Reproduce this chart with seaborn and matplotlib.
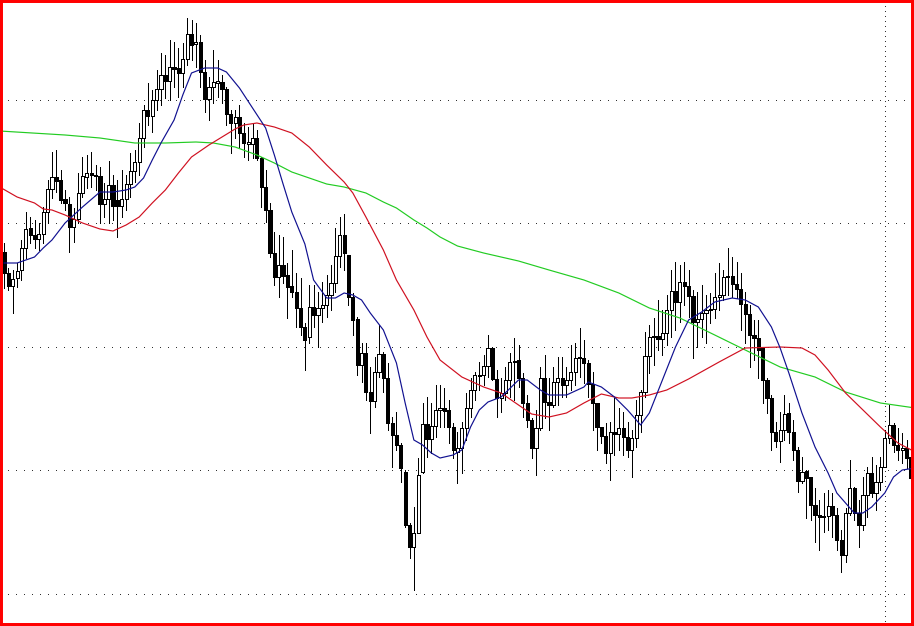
import numpy as np
import pandas as pd
import matplotlib
matplotlib.use("Agg")
import matplotlib.pyplot as plt
from matplotlib.patches import Rectangle
import seaborn as sns

# ---------------- data (price units, one value per bar) ----------------
opens = [748, 727, 714, 722, 730, 752, 772, 765, 761, 766,
         788, 811, 823, 820, 801, 796, 773, 781, 807, 823,
         827, 825, 824, 796, 801, 815, 800, 794, 801, 816,
         829, 838, 862, 890, 884, 900, 911, 925, 919, 933,
         932, 927, 941, 966, 956, 958, 928, 901, 913, 917,
         918, 911, 886, 877, 883, 867, 856, 856, 862, 842,
         813, 790, 747, 723, 735, 725, 714, 708, 692, 673,
         663, 693, 685, 692, 695, 705, 717, 744, 765, 745,
         703, 681, 635, 647, 608, 599, 628, 646, 622, 577,
         565, 555, 528, 475, 453, 467, 528, 576, 561, 574,
         590, 592, 590, 573, 548, 552, 572, 592, 610, 624,
         625, 634, 652, 621, 602, 607, 620, 638, 640, 622,
         597, 580, 552, 572, 622, 598, 595, 618, 622, 615,
         620, 628, 642, 642, 637, 616, 597, 573, 564, 547,
         568, 566, 572, 563, 550, 562, 585, 608, 644, 663,
         664, 661, 667, 690, 709, 698, 718, 714, 704, 678,
         681, 687, 690, 691, 703, 705, 723, 724, 716, 711,
         696, 686, 665, 662, 652, 620, 602, 568, 559, 570,
         587, 568, 550, 519, 529, 523, 495, 485, 484, 484,
         494, 485, 460, 445, 487, 512, 487, 475, 505, 527,
         507, 518, 533, 562, 575, 555, 550, 552, 543]

highs = [757, 732, 730, 737, 760, 788, 783, 780, 777, 793,
         820, 848, 850, 830, 810, 803, 792, 827, 843, 845,
         848, 835, 833, 817, 839, 825, 820, 830, 825, 847,
         850, 877, 895, 917, 910, 930, 947, 945, 960, 958,
         952, 957, 982, 980, 977, 965, 940, 923, 950, 940,
         925, 913, 890, 890, 895, 877, 873, 877, 870, 843,
         830, 797, 768, 765, 763, 737, 750, 727, 722, 677,
         715, 715, 708, 718, 725, 735, 772, 783, 786, 745,
         707, 683, 657, 657, 633, 643, 675, 648, 637, 583,
         588, 557, 530, 477, 493, 542, 597, 603, 597, 615,
         615, 612, 600, 577, 568, 578, 607, 622, 628, 638,
         645, 665, 653, 630, 622, 633, 647, 662, 655, 627,
         605, 582, 590, 633, 645, 622, 633, 643, 643, 633,
         655, 657, 672, 660, 640, 628, 597, 573, 577, 578,
         602, 592, 588, 578, 570, 600, 610, 668, 675, 682,
         700, 690, 705, 730, 738, 735, 738, 730, 710, 708,
         715, 705, 707, 727, 737, 730, 752, 743, 738, 727,
         708, 695, 680, 680, 652, 622, 605, 578, 588, 605,
         597, 580, 553, 543, 530, 523, 512, 500, 507, 510,
         507, 492, 470, 492, 540, 513, 500, 523, 533, 543,
         535, 543, 570, 595, 577, 572, 567, 560, 543]

lows = [712, 710, 687, 713, 720, 742, 757, 752, 750, 757,
        777, 802, 808, 797, 790, 748, 758, 777, 803, 812,
        813, 810, 777, 783, 777, 780, 763, 783, 790, 803,
        818, 825, 853, 875, 868, 890, 895, 902, 900, 913,
        903, 913, 935, 940, 933, 913, 888, 880, 897, 903,
        897, 875, 847, 862, 853, 843, 840, 842, 840, 793,
        778, 743, 715, 703, 717, 682, 703, 673, 665, 630,
        657, 673, 653, 678, 683, 690, 708, 733, 730, 695,
        665, 625, 618, 600, 567, 593, 623, 608, 570, 533,
        550, 518, 473, 442, 410, 467, 527, 543, 547, 563,
        573, 573, 557, 542, 517, 527, 560, 583, 600, 610,
        615, 623, 620, 583, 588, 600, 603, 600, 613, 583,
        573, 542, 525, 570, 582, 570, 593, 595, 603, 603,
        610, 615, 623, 617, 603, 570, 550, 557, 537, 520,
        545, 550, 545, 543, 523, 553, 568, 603, 627, 635,
        650, 645, 655, 663, 670, 678, 695, 683, 642, 653,
        663, 657, 677, 682, 690, 700, 705, 703, 702, 670,
        657, 633, 640, 622, 597, 587, 550, 553, 538, 560,
        557, 540, 508, 517, 482, 480, 458, 450, 468, 470,
        463, 450, 428, 438, 485, 480, 453, 470, 483, 503,
        490, 510, 533, 557, 548, 540, 537, 532, 507]

closes = [727, 714, 721, 729, 752, 771, 765, 761, 766, 788,
          811, 823, 819, 800, 797, 773, 781, 807, 824, 827,
          825, 824, 796, 801, 815, 794, 794, 801, 816, 829,
          838, 862, 890, 884, 900, 911, 925, 919, 933, 931,
          927, 941, 966, 955, 958, 928, 901, 913, 918, 919,
          911, 886, 877, 883, 867, 857, 858, 862, 842, 813,
          790, 747, 723, 735, 724, 713, 708, 692, 673, 660,
          693, 685, 692, 695, 705, 717, 744, 765, 747, 703,
          680, 635, 647, 608, 599, 628, 646, 622, 577, 565,
          555, 532, 475, 453, 467, 525, 576, 561, 574, 590,
          592, 589, 573, 550, 552, 572, 592, 610, 625, 625,
          634, 652, 621, 602, 607, 620, 638, 639, 622, 597,
          580, 552, 572, 622, 598, 595, 618, 622, 615, 620,
          628, 642, 643, 637, 616, 597, 573, 564, 547, 568,
          566, 572, 563, 550, 562, 585, 608, 644, 663, 664,
          661, 667, 690, 709, 698, 718, 714, 704, 678, 681,
          687, 690, 691, 703, 705, 723, 724, 716, 711, 696,
          686, 665, 662, 650, 620, 602, 568, 559, 570, 586,
          568, 550, 519, 528, 522, 495, 485, 483, 483, 494,
          485, 460, 445, 487, 512, 487, 475, 505, 527, 507,
          518, 533, 562, 575, 555, 550, 552, 542, 522]

# moving averages (bar index, value)
fast_ma_bar = [0, 3, 7, 9, 11, 14, 18, 22, 25, 28, 30, 32, 34, 36, 39, 41, 43, 46, 49,
               51, 54, 57, 60, 62, 64, 66, 69, 71, 74, 76, 78, 80, 82, 84, 87, 90, 92,
               94, 96, 98, 100, 103, 105, 107, 109, 111, 114, 118, 120, 123, 125, 129,
               133, 134, 137, 140, 143, 146, 148, 151, 154, 157, 160, 163, 167, 170,
               173, 176, 178, 180, 183, 186, 189, 191, 195, 197, 199, 202, 204, 206, 209]
fast_ma = [737, 737, 743, 752, 760, 777, 793, 808, 808, 810, 813, 822, 840, 857, 880,
           905, 927, 932, 932, 928, 912, 892, 872, 845, 816, 788, 756, 720, 702, 702,
           707, 705, 700, 687, 670, 637, 597, 560, 555, 547, 542, 545, 550, 573, 590,
           598, 603, 620, 620, 610, 605, 605, 613, 618, 613, 603, 590, 575, 587, 620,
           653, 680, 688, 698, 702, 700, 693, 673, 652, 627, 587, 553, 527, 507, 487,
           487, 493, 507, 523, 530, 532]

mid_ma_bar = [-1, 3, 7, 9, 11, 14, 18, 22, 25, 28, 31, 34, 37, 40, 43, 47, 50, 53, 55,
              58, 62, 66, 70, 74, 78, 80, 83, 87, 90, 94, 97, 100, 105, 110, 114, 118,
              121, 125, 129, 133, 137, 141, 144, 148, 152, 157, 164, 170, 178, 183,
              186, 189, 193, 197, 201, 205, 209]
mid_ma = [813, 803, 797, 791, 790, 785, 777, 771, 769, 775, 783, 797, 810, 827, 843,
          855, 863, 871, 875, 877, 873, 867, 853, 835, 818, 807, 783, 750, 720, 690,
          663, 640, 623, 613, 607, 595, 586, 583, 587, 597, 606, 602, 602, 605, 610,
          621, 638, 652, 653, 652, 645, 630, 607, 590, 573, 557, 548]

slow_ma_bar = [-1, 14, 22, 30, 37, 44, 48, 53, 58, 62, 66, 70, 74, 78, 83, 87, 90, 94,
               97, 100, 104, 110, 118, 125, 133, 141, 148, 155, 163, 170, 178, 186,
               193, 201, 209]
slow_ma = [869, 865, 862, 857, 857, 858, 857, 853, 845, 837, 828, 822, 816, 813, 807,
           798, 792, 780, 772, 763, 754, 747, 739, 730, 720, 707, 692, 682, 665, 650,
           633, 623, 608, 597, 592]

grid_levels = [900, 777, 653, 530, 406]
separator_bar = 202

# ---------------- figure ----------------
sns.set_theme(style="white")

PX = 72.0 / 100.0  # one pixel in points at dpi 100

fig = plt.figure(figsize=(9.14, 6.26), dpi=100)
ax = fig.add_axes([0, 0, 1, 1])
ax.set_facecolor("white")

df = pd.DataFrame({"bar": np.arange(len(opens)), "open": opens, "high": highs,
                   "low": lows, "close": closes})
up = df["close"] >= df["open"]

# grid (dotted)
for lvl in grid_levels:
    ax.axhline(lvl, color="#303030", lw=PX, linestyle=(0, (1, 7)), zorder=1,
               antialiased=False)
ax.axvline(separator_bar, color="#303030", lw=PX, linestyle=(0, (1, 5)), zorder=1,
           antialiased=False)

# wicks
ax.vlines(df["bar"], df["low"], df["high"], color="black", lw=PX, zorder=2,
          antialiased=False)
# bodies
ax.bar(df["bar"], df["close"] - df["open"], bottom=df["open"], width=0.72,
       color=np.where(up, "white", "black"), edgecolor="black", linewidth=PX,
       zorder=3, antialiased=False)

# moving averages
sns.lineplot(x=slow_ma_bar, y=slow_ma, ax=ax, color="#22CC22", lw=0.85, zorder=4)
sns.lineplot(x=mid_ma_bar, y=mid_ma, ax=ax, color="#D01020", lw=0.85, zorder=4)
sns.lineplot(x=fast_ma_bar, y=fast_ma, ax=ax, color="#101090", lw=0.85, zorder=4)

ax.set_xlim(-0.92, 208.7)
ax.set_ylim(374, 1000)
ax.set_xticks([])
ax.set_yticks([])
ax.set_xlabel("")
ax.set_ylabel("")
for s in ax.spines.values():
    s.set_visible(False)

fig.add_artist(Rectangle((0, 0), 1, 1, transform=fig.transFigure, fill=False,
                         edgecolor="#FF0000", linewidth=4.3, zorder=10))

fig.savefig("out.png", dpi=100)
